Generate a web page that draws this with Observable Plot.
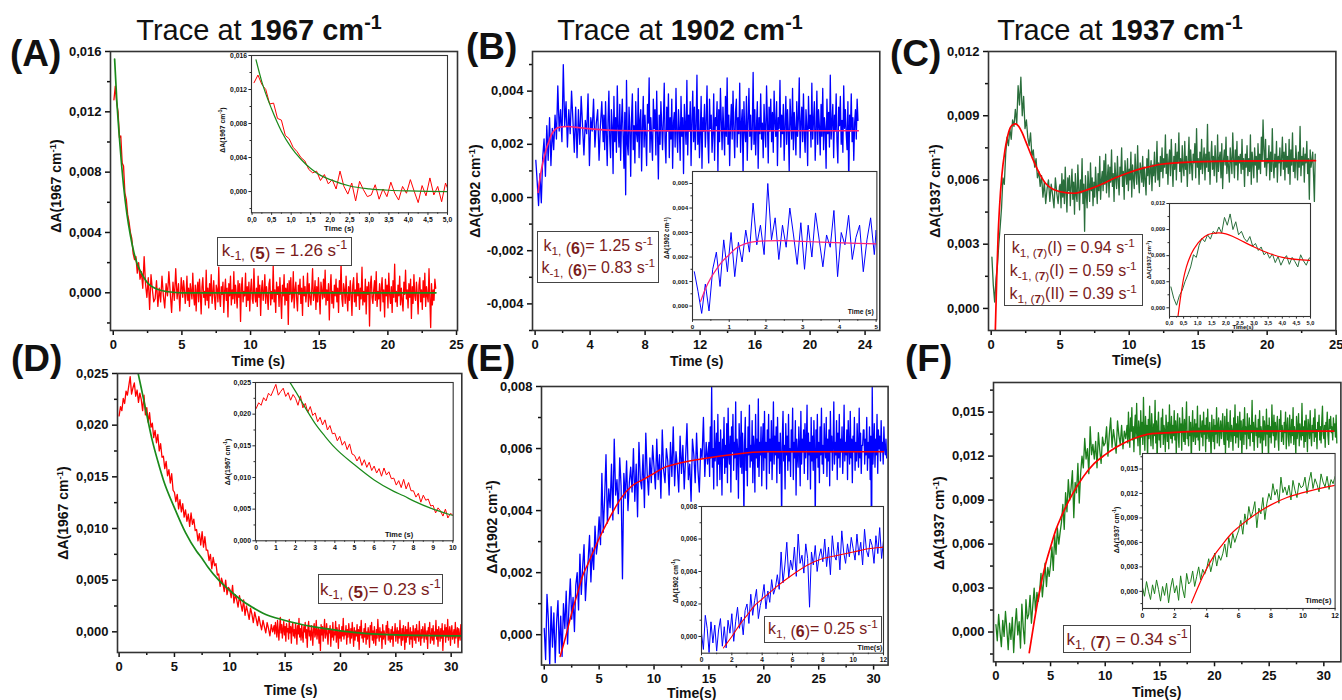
<!DOCTYPE html>
<html><head><meta charset="utf-8">
<script src="https://cdn.jsdelivr.net/npm/d3@7"></script>
<script src="https://cdn.jsdelivr.net/npm/@observablehq/plot@0.6"></script>
<style>
html,body{margin:0;padding:0;background:#fff;}
#fig{position:relative;width:1342px;height:700px;overflow:hidden;font-family:Arial,"Liberation Sans",sans-serif;color:#111;}
.t{position:absolute;white-space:nowrap;line-height:1;}
.box{position:absolute;box-sizing:border-box;border:1.5px solid #444;background:#fff;}
.an{position:absolute;white-space:nowrap;line-height:1;text-align:center;color:#7a1c1c;}
sub,sup{line-height:0;}
.an sub{font-size:0.74em;vertical-align:-0.3em;}
.an sup{font-size:0.74em;vertical-align:0.55em;}
.an .lo{vertical-align:-0.18em;}
.t sup{font-size:0.68em;vertical-align:0.55em;}
#fig svg g[aria-label$="tick label"]{font-weight:bold;}
</style>
</head><body><div id="fig"></div>
<script>
// ---------- data (ΔA values in units of 1e-4) ----------
const SCALE = 1e-4;
// Panel A (1967 cm-1): early part every 0.1 s from 0.05 s, later part every 0.061 s from 5 s
const A_t0 = 0.05, A_dt = 0.1, A_t1 = 5.0, A_dt2 = 0.061;
const traceA1 = [128,137,126,120,103,104,86,84,66,62,52,47,40,36,26,22,24,13,20,9,
14,3,24,6,-3,10,-11,12,2,-6,-4,8,-9,3,-6,11,-2,-10,6,-2,14,0,-13,7,-5,16,-4,6,-12,10];
const traceA2 = [4,-3,8,2,-7,-1,11,-5,3,-9,6,1,-4,13,-2,-8,5,-12,2,7,-6,9,-1,-14,4,10,-3,1,-8,15,
-5,3,-10,6,-2,12,-7,0,8,-4,-11,5,2,-6,17,-3,-9,4,-1,7,-13,1,9,-5,3,-16,6,-2,11,-8,
2,-4,14,-7,5,-1,-10,8,-3,6,-19,3,10,-6,1,-2,13,-9,4,-5,7,-12,2,9,-4,-7,16,-1,-6,3,
-9,11,-3,5,-15,2,8,-5,0,12,-7,4,-2,-11,6,9,-8,1,-4,18,-6,2,-13,7,-1,4,-9,10,-3,-17,
5,-2,12,-8,3,-5,6,-21,8,-1,10,-6,-3,14,-10,2,7,-4,-12,5,-1,9,-7,3,-15,11,-2,4,-6,1,
13,-9,6,-3,-8,2,16,-5,-1,8,-11,4,-6,10,-2,-14,7,1,-4,9,-3,15,-8,2,-5,6,-18,3,12,-7,
1,-10,5,-2,9,-6,3,-13,8,-1,20,-4,-9,6,2,-7,11,-3,-12,4,-5,8,-1,-15,5,10,-6,2,-9,13,
-2,6,-11,3,-4,17,-8,1,-6,9,-14,4,-1,7,-22,5,11,-3,-7,2,8,-5,14,-9,1,-4,6,-12,3,10,
-6,2,-16,9,-2,5,-10,13,-1,-7,4,-13,8,-3,19,-6,1,-9,5,-2,11,-8,3,-5,-12,7,-1,15,-4,2,
-10,6,-3,9,-17,4,-7,12,-2,-5,7,-1,-14,5,10,-6,2,-11,8,-3,13,-9,4,-2,-6,16,-4,-23,6,-8,
2,-5,9,3];
const fitA_t = [0.1,0.25,0.5,0.75,1,1.25,1.5,1.75,2,2.5,3,3.5,4,5,23.5];
const fitA_v = [155,129,97,71,52,38,27,19,14,6.5,3.2,1.5,0.7,0,0];

// Panel B (1902 cm-1)
const B_t0 = 0.05, B_dt = 0.1, B_t1 = 5.0, B_dt2 = 0.061;
const traceB1 = [14,6,-3,9,-2,15,22,8,27,14,30,12,26,18,31,22,42,25,33,21,
50,27,36,19,33,24,40,29,17,34,15,33,20,38,27,16,29,24,39,12,30,25,37,19,28,33,14,27,36,21];
const traceB2 = [31,18,36,24,12,29,40,22,15,33,27,9,38,21,30,17,42,26,19,35,
14,28,37,23,11,32,1,44,20,16,34,26,8,30,39,18,27,13,36,24,21,41,15,29,33,10,26,38,19,31,
23,12,35,28,45,17,30,22,14,37,26,33,16,40,24,7,31,20,36,27,18,29,43,21,13,34,25,39,15,30,
22,37,11,28,32,19,41,24,17,33,26,14,38,23,30,9,35,27,20,44,16,31,25,36,12,29,40,21,34,18,
27,46,20,33,15,24,38,11,30,25,35,19,28,42,22,13,37,26,31,17,24,39,14,30,27,36,10,33,21,41,
29,18,34,25,16,38,23,45,20,31,12,27,35,22,40,26,15,32,37,19,30,24,43,17,28,33,8,36,25,21,
38,14,29,41,23,31,18,26,47,20,33,16,27,36,11,30,24,39,22,28,15,35,26,19,42,29,13,34,25,37,
21,32,17,40,28,23,36,12,30,26,44,19,31,24,35,14,27,38,20,33,25,10,37,29,22,41,18,32,26,16,
36,23,30,45,15,28,34,21,39,24,17,33,27,12,38,26,31,19,43,22,29,36,14,25,40,20,33,27,16,35,
23,41,18,30,26,11,37,24,32,19,46,22,28,35,15,31,25,39,21,13,34,27,38,20,29,17,42,26,33,24,
18,36,4,31,25,39,21,30,14,28,33,22,37,29];
const fitB_t = [0.22,0.35,0.5,0.65,0.8,1.0,1.15,1.3,1.6,2,2.4,3,3.5,4.5,6,8,23.5];
const fitB_v = [1.9,7,11.5,15,18,21,23.2,24.6,26.1,26.6,26.7,26.4,26.1,25.6,25.2,25.1,25.1];

// Panel C (1937 cm-1)
const C_t0 = 0.05, C_dt = 0.1, C_t1 = 5.0, C_dt2 = 0.061;
const traceC1 = [24,11,3,14,20,30,38,47,61,58,72,80,76,84,79,88,85,93,86,104,
95,108,90,99,84,88,80,76,82,71,74,66,70,61,64,57,62,52,59,49,56,60,50,58,53,47,61,54,49,57];
const traceC2 = [58,47,63,52,60,49,66,54,45,61,55,62,48,57,65,51,59,44,63,53,
50,67,56,46,60,54,70,49,58,36,62,53,47,64,57,50,68,55,61,48,59,52,66,57,49,63,55,71,51,60,
64,55,69,58,72,54,61,67,52,66,59,74,57,63,50,68,61,56,71,60,53,66,62,75,57,64,51,69,63,58,
70,55,65,60,73,52,67,61,56,72,63,58,76,61,54,68,65,59,71,57,66,60,53,70,62,74,58,64,69,55,
67,62,73,59,65,78,60,68,57,71,64,75,61,70,66,81,63,72,58,69,74,62,79,67,57,71,65,77,60,73,
68,82,64,70,59,76,66,62,78,65,71,57,69,80,63,74,67,60,72,68,77,61,84,66,70,58,73,65,79,63,
69,75,60,72,66,86,64,73,58,70,78,65,71,62,76,68,59,81,64,70,73,61,77,56,69,74,67,80,63,71,
66,59,75,69,63,82,70,61,74,67,78,60,71,68,72,63,79,65,70,57,72,66,76,62,70,64,81,58,73,68,
61,75,67,71,59,77,65,72,63,80,69,88,74,66,79,62,70,68,76,60,73,64,84,67,61,72,66,78,59,71,
68,75,62,70,80,65,73,60,77,66,71,63,79,58,74,67,82,64,70,61,76,69,60,73,66,85,62,71,67,75,
59,72,68,78,63,70,51,74,66,69,73,62,50,72];
const fitC_t = [0.3,0.4,0.5,0.6,0.77,1,1.25,1.5,1.75,2,2.25,2.5,3,3.5,4,5,6,7,8,9,10,11,12,14,17,23.5];
const fitC_v = [-10,14,34,47,62,74,82,85.5,86.2,85,82,78,70,63,58,54.5,53.8,55.5,58,61,63.5,65.5,67,68.2,68.8,69];

// Panel D (1967 cm-1): every 0.125 s from 0 s, then every 0.0625 s from 14 s
const D_t0 = 0, D_dt = 0.125, D_t1 = 14, D_dt2 = 0.0625;
const traceD1 = [209,218,214,226,221,233,229,238,247,230,236,241,228,234,222,231,
225,214,229,210,217,203,212,198,202,188,195,183,191,175,182,169,170,158,165,151,157,144,153,137,
135,126,133,119,128,116,124,111,118,107,114,102,115,104,109,98,99,88,95,84,97,82,92,79,
79,69,75,61,72,64,66,55,56,44,52,47,39,50,36,43,
41,33,45,28,36,31,24,35,27,20,31,16,25,19,12,23,17,9,19,13,6,15,8,2,11,5,-1,9,3,-4,7,0];
const traceD2 = [6,-2,9,3,-5,11,1,-8,4,14,-1,7,-6,2,10,-3,5,-9,8,0,3,-7,12,-1,5,-11,4,9,-4,2,
-6,8,1,-12,6,-2,13,-5,3,-8,7,-3,-10,5,0,9,-6,2,-15,4,10,-4,1,-8,6,-1,-13,3,8,-5,
-2,11,-7,0,4,-11,2,-18,7,-3,5,-9,1,12,-6,-2,8,-4,-12,3,-1,6,-14,2,-5,9,-8,0,-3,10,
-10,4,-2,-16,7,-6,1,-9,5,-4,13,-7,0,-3,6,-12,2,-5,8,-1,-11,3,-6,9,-2,-14,4,-8,1,-4,
7,-9,2,-17,5,-3,11,-6,-1,-10,3,-5,8,-12,0,-7,4,-2,-15,6,-3,9,-8,1,-11,5,-4,-13,2,-6,
12,-2,-9,4,-5,0,-16,7,-7,1,-4,-12,6,-1,10,-8,3,-6,-10,2,-7,5,-14,0,-3,8,-9,-1,4,-11,
1,-6,11,-4,-13,3,-8,6,-2,-17,5,-10,2,-5,9,-3,-12,4,-7,0,-15,6,-2,-8,3,-11,7,-5,1,-9,
10,-4,-13,2,-6,5,-1,-10,8,-3,-7,1,-16,4,-2,9,-11,-5,3,-8,6,-12,0,-4,11,-7,2,-14,5,-1,
-9,3,-6,8,-18,1,-3,7,-10,4,-5,12,-8,-2,5,-13,0,6,-7,-3,2,-11,9,-6,-1,4,-15,3,-4,-8,
7,-3];
const fitD_t = [1.72,2,2.5,3,3.5,4,5,6,7,7.5,8,9,10,11,12,13,15,17.5,20,25,31];
const fitD_v = [250,236,210,185,165,147,120,96,78,71,63,50,40,31,24,18,11,5,1,-3,-4];

// Panel E (1902 cm-1)
const E_t0 = 0, E_dt = 0.125, E_t1 = 15, E_dt2 = 0.0625;
const traceE1 = [2,-8,13,5,-10,9,-4,7,-9,4,11,-6,6,-7,10,2,14,-3,9,18,5,12,1,16,
20,8,26,13,22,29,11,19,24,32,17,28,21,35,26,30,38,29,52,33,44,58,36,47,
41,55,37,63,45,50,39,57,48,18,52,44,56,40,49,54,46,60,43,55,38,62,50,47,58,41,65,52,45,57,49,61,
54,47,63,50,58,44,66,53,49,60,56,45,62,51,67,48,59,54,46,64,52,61,47,57,68,50,55,43,63,58,
49,65,53,46,60,57,70,51,62,55];
const traceE2 = [62,51,67,57,80,54,60,47,69,56,59,65,48,71,55,62,50,66,58,45,
63,57,70,52,61,54,68,49,73,58,55,64,46,67,59,71,53,62,57,75,50,63,59,44,68,61,54,72,52,65,
57,38,62,70,53,60,48,67,58,74,54,61,56,69,49,64,60,46,71,57,63,54,76,51,62,58,67,48,61,68,
53,72,57,62,47,66,59,71,52,63,56,69,50,60,75,55,64,58,67,49,70,57,62,52,65,58,36,64,72,56,
61,47,68,58,64,53,71,56,60,51,66,59,73,50,62,57,69,45,63,58,54,67,60,48,72,55,63,59,66,52,
68,57,61,74,50,65,58,62,47,70,56,64,53,69,59,37,66,57,71,54,62,49,67,58,73,55,61,52,68,60,
57,70,51,63,56,66,48,72,59,64,53,61,75,55,62,58,69,50,65,57,71,54,63,59,67,52,60,74,56,62,
58,66,50,69,61,55,72,57,63,49,64,59,70,53,62,56,68,60,54,73,57,65,52,61,61,66,66,55,63,58,
70,53,62,57,67,50,64,22,80,55,61,68,54,63,58,71,52,66,60,64,56,69,59,62,55,67,60,58,63,57];
const fitE_t = [1.45,2,2.5,3,3.5,4,5,6,7,8,9,10,11,12,13,15,17,20,30.9];
const fitE_v = [-7,0,7,13,19,23,31,38,44,48,50,52,54,55,55.8,57,58,59,59];

// Panel F (1937 cm-1)
const F_t0 = 0, F_dt = 0.125, F_t1 = 12, F_dt2 = 0.0625;
const traceF1 = [5,-6,12,0,-10,8,-3,14,2,-12,6,-5,10,-14,4,16,-2,7,-11,19,3,-8,22,9,
12,25,6,18,30,14,27,21,28,40,24,35,47,31,44,38,46,58,42,66,53,71,60,68,
75,87,70,95,82,104,90,98,110,78,102,95,115,88,108,120,112,132,118,125,108,140,121,128,
118,130,112,136,124,115,133,127,129,140,120,135,146,126,138,131,122,144,134,128,141,125,137,132];
const traceF2 = [141,129,150,134,126,146,137,153,131,140,123,139,148,132,156,136,127,144,138,121,
151,133,143,128,160,137,124,147,134,141,118,145,132,154,136,127,149,139,125,142,
134,158,129,144,115,140,150,131,137,126,146,135,152,128,141,137,123,148,139,130,
143,125,155,136,132,147,129,141,134,151,131,144,121,140,149,133,126,146,137,142,
124,153,139,130,145,128,141,157,132,136,127,147,134,143,116,138,151,130,135,145,
128,142,133,154,131,139,124,148,138,133,144,127,150,135,141,123,146,132,152,136,
130,143,134,119,148,137,130,145,125,141,135,153,129,140,146,127,138,144,132,140,
149,133,128,147,122,138,152,131,143,126,136,151,130,141,137,124,146,134,155,129,
142,133,147,126,139,150,131,144,120,138,145,128,153,135,140,125,149,137,132,146,
127,141,136,158,130,143,124,139,148,134,139,126,145,133,151,129,140,136,122,147,
131,144,138,127,152,135,141,117,146,133,140,129,155,137,134,148,126,143,131,139,
147,132,124,145,138,151,130,141,135,128,143,136,150,125,139,146,133,127,148,137,
129,145,134,153,128,140,136,121,147,132,138,149,127,142,135,131,156,134,140,126,
144,130,148,137,123,145,139,132,151,135,127,141,136,146,130,152,133,138,125,143,
137,148,131,140,129,144,154,135,132,141,126,143,138,150,134,128,145,139,147,136,
140,131,146,137,142,133,148,129];
const fitF_t = [3.05,3.5,4,4.5,5,5.5,6,7,8,9,10,11,12,13,14,16,20,30.9];
const fitF_v = [-14,7,28,45,58,70,79,94,106,115,121,126,130,133,135,136,137,137];

// ---------- tick values ----------
const xMaj25 = [0,5,10,15,20,25], xMin25 = [2.5,7.5,12.5,17.5,22.5];
const xMajB = [0,4,8,12,16,20,24], xMinB = [2,6,10,14,18,22];
const xMaj30 = [0,5,10,15,20,25,30], xMin30 = [2.5,7.5,12.5,17.5,22.5,27.5];
const yMajA = [0,0.004,0.008,0.012,0.016], yMinA = [-0.002,0.002,0.006,0.010,0.014];
const yMajB = [-0.004,-0.002,0,0.002,0.004], yMinB = [-0.005,-0.003,-0.001,0.001,0.003,0.005];
const yMajC = [0,0.003,0.006,0.009,0.012], yMinC = [0.0015,0.0045,0.0075,0.0105];
const yMajD = [0,0.005,0.010,0.015,0.020,0.025], yMinD = [0.0025,0.0075,0.0125,0.0175,0.0225];
const yMajE = [0,0.002,0.004,0.006,0.008], yMinE = [0.001,0.003,0.005,0.007];
const yMajF = [0,0.003,0.006,0.009,0.012,0.015], yMinF = [-0.0015,0.0015,0.0045,0.0075,0.0105,0.0135,0.0165];
const xMaj5h = [0,0.5,1,1.5,2,2.5,3,3.5,4,4.5,5], xMin5h = [0.25,0.75,1.25,1.75,2.25,2.75,3.25,3.75,4.25,4.75];
const xMaj5 = [0,1,2,3,4,5], xMin5 = [0.5,1.5,2.5,3.5,4.5];
const yMajBi = [0,0.001,0.002,0.003,0.004,0.005], yMinBi = [0.0005,0.0015,0.0025,0.0035,0.0045];
const xMaj10 = [0,1,2,3,4,5,6,7,8,9,10], xMin10 = [0.5,1.5,2.5,3.5,4.5,5.5,6.5,7.5,8.5,9.5];
const xMaj12 = [0,2,4,6,8,10,12], xMin12 = [1,3,5,7,9,11];

// ---------- helpers ----------
const fig = document.getElementById("fig");
const FONT = "Arial, 'Liberation Sans', sans-serif";
const rows = (vals, t0, dt) => vals.map((v, i) => ({t: t0 + i * dt, v: v * SCALE}));
const fitRows = (ts, vs) => ts.map((t, i) => ({t, v: vs[i] * SCALE}));
const fy3 = v => (v < 0 ? "-" : "") + Math.abs(v).toFixed(3).replace(".", ",");
const fx0 = v => String(v);
const fx1 = v => v.toFixed(1).replace(".", ",");
const none = () => "";

const RED = "#ff0000", BLUE = "#0000ff", GFIT = "#1b8a1b", PINK = "#ff2277", DGREEN = "#2a6e3c", FGREEN = "#1c7f1c";

const dA = rows(traceA1, A_t0, A_dt).concat(rows(traceA2, A_t1, A_dt2)), fA = fitRows(fitA_t, fitA_v);
const dB = rows(traceB1, B_t0, B_dt).concat(rows(traceB2, B_t1, B_dt2)), fB = fitRows(fitB_t, fitB_v);
const dC = rows(traceC1, C_t0, C_dt).concat(rows(traceC2, C_t1, C_dt2)), fC = fitRows(fitC_t, fitC_v);
const dD = rows(traceD1, D_t0, D_dt).concat(rows(traceD2, D_t1, D_dt2)), fD = fitRows(fitD_t, fitD_v);
const dE = rows(traceE1, E_t0, E_dt).concat(rows(traceE2, E_t1, E_dt2)), fE = fitRows(fitE_t, fitE_v);
const dF = rows(traceF1, F_t0, F_dt).concat(rows(traceF2, F_t1, F_dt2)), fF = fitRows(fitF_t, fitF_v);

const dataLine = (d, stroke, w) => Plot.line(d, {x: "t", y: "v", stroke, strokeWidth: w, clip: true});
const fitLine = (d, stroke, w) => Plot.line(d, {x: "t", y: "v", stroke, strokeWidth: w, curve: "monotone-x", clip: true});

function panel(c) {
  const [l, t, r, b] = c.box;
  const ml = 80, mr = 12, mt = 12, mb = 40;
  const W = r - l + ml + mr, H = b - t + mt + mb;
  const sw = c.sw, marks = [];
  if (c.inset) marks.push(Plot.frame({fill: "white"}));
  marks.push(...c.marks);
  marks.push(
    Plot.axisY({ticks: c.ym, tickSize: c.tm, tickFormat: none, label: null, strokeWidth: sw}),
    Plot.axisY({ticks: c.yt, tickSize: c.tM, tickPadding: c.pad, tickFormat: c.fy, label: null, strokeWidth: sw, fontSize: c.fs, fontWeight: "bold"}),
    Plot.axisX({ticks: c.xm, tickSize: c.tm, tickFormat: none, label: null, strokeWidth: sw}),
    Plot.axisX({ticks: c.xt, tickSize: c.tM, tickPadding: c.pad, tickFormat: c.fx, label: null, strokeWidth: sw, fontSize: c.fs, fontWeight: "bold"}),
    Plot.frame({stroke: "#333", strokeWidth: c.fw})
  );
  const svg = Plot.plot({
    width: W, height: H, marginLeft: ml, marginRight: mr, marginTop: mt, marginBottom: mb,
    x: {domain: c.x}, y: {domain: c.y}, marks,
    style: {fontFamily: FONT, color: "#111", background: "transparent", overflow: "visible", maxWidth: "none"}
  });
  svg.style.position = "absolute";
  svg.style.left = (l - ml) + "px";
  svg.style.top = (t - mt) + "px";
  fig.appendChild(svg);
}
const MAIN = {fs: 13, tM: 5, tm: 3, pad: 4, sw: 1.5, fw: 1.6, fy: fy3, fx: fx0};
const INS = {fs: 6.8, tM: 2.6, tm: 1.5, pad: 1.8, sw: 0.9, fw: 1.1, fy: fy3, inset: true};

function ctext(html, cx, cy, size, weight, rot) {
  const d = document.createElement("div");
  d.className = "t";
  d.innerHTML = html;
  d.style.left = cx + "px"; d.style.top = cy + "px";
  d.style.fontSize = size + "px"; d.style.fontWeight = weight;
  d.style.transform = "translate(-50%,-50%)" + (rot ? " rotate(-90deg)" : "");
  fig.appendChild(d);
}
function ltext(html, x, base, size, weight) {
  const d = document.createElement("div");
  d.className = "t";
  d.innerHTML = html;
  d.style.left = x + "px"; d.style.top = (base - 0.8465 * size) + "px";
  d.style.fontSize = size + "px"; d.style.fontWeight = weight;
  fig.appendChild(d);
}
function ann(box, size, lines) {
  const [l, t, r, b] = box;
  const bx = document.createElement("div");
  bx.className = "box";
  bx.style.cssText = `left:${l}px;top:${t}px;width:${r - l}px;height:${b - t}px;`;
  fig.appendChild(bx);
  for (const [html, base] of lines) {
    const d = document.createElement("div");
    d.className = "an";
    d.innerHTML = html;
    d.style.cssText = `left:${l}px;width:${r - l}px;top:${base - 0.8465 * size}px;font-size:${size}px;`;
    fig.appendChild(d);
  }
}
const YT = n => `ΔA(${n} cm<sup>-1</sup>)`;

// ---------- Panel A ----------
panel({...MAIN, box: [110, 51, 457, 330], x: [-0.2, 25.07], y: [-0.0025, 0.016],
  xt: xMaj25, xm: xMin25, yt: yMajA, ym: yMinA,
  marks: [dataLine(dA, RED, 1.3), fitLine(fA, GFIT, 1.7)]});
panel({...INS, box: [250.7, 55, 446.7, 212.3], x: [-0.015, 5.0], y: [-0.0025, 0.016],
  xt: xMaj5h, xm: xMin5h, yt: yMajA, ym: yMinA, fx: fx1,
  marks: [dataLine(dA, RED, 1), fitLine(fA, GFIT, 1.2)]});
// ---------- Panel B ----------
panel({...MAIN, box: [531.7, 51, 879, 330], x: [-0.19, 25.07], y: [-0.005, 0.00549],
  xt: xMajB, xm: xMinB, yt: yMajB, ym: yMinB,
  marks: [dataLine(dB, BLUE, 1.3), fitLine(fB, PINK, 1.7)]});
panel({...INS, box: [692.3, 170.7, 876.7, 319], x: [0, 5.02], y: [-0.00056, 0.00549], fs: 6.2,
  xt: xMaj5, xm: xMin5, yt: yMajBi, ym: yMinBi, fx: fx0,
  marks: [dataLine(dB, BLUE, 1), fitLine(fB, PINK, 1.2)]});
// ---------- Panel C ----------
panel({...MAIN, box: [988.3, 51, 1335.7, 330], x: [-0.196, 24.98], y: [-0.00103, 0.012],
  xt: xMaj25, xm: xMin25, yt: yMajC, ym: yMinC,
  marks: [dataLine(dC, DGREEN, 1.3), fitLine(fC, RED, 1.7)]});
panel({...INS, box: [1169.3, 203, 1310.3, 316], x: [0, 5], y: [-0.001, 0.012], fs: 5.6,
  xt: xMaj5h, xm: xMin5h, yt: yMajC, ym: yMinC, fx: fx1,
  marks: [dataLine(dC, DGREEN, 1), fitLine(fC, RED, 1.2)]});
// ---------- Panel D ----------
panel({...MAIN, box: [116.7, 372.7, 461, 651.7], x: [-0.145, 30.96], y: [-0.002, 0.025],
  xt: xMaj30, xm: xMin30, yt: yMajD, ym: yMinD,
  marks: [dataLine(dD, RED, 1.3), fitLine(fD, GFIT, 1.7)]});
panel({...INS, box: [255, 381.7, 452.7, 540], x: [-0.036, 10.02], y: [0, 0.025], fs: 7,
  xt: xMaj10, xm: xMin10, yt: yMajD, ym: yMinD, fx: fx0,
  marks: [dataLine(dD, RED, 1), fitLine(fD, GFIT, 1.2)]});
// ---------- Panel E ----------
panel({...MAIN, box: [540.7, 385.7, 887.3, 664.3], x: [-0.25, 31.32], y: [-0.00098, 0.008],
  xt: xMaj30, xm: xMin30, yt: yMajE, ym: yMinE,
  marks: [dataLine(dE, BLUE, 1.3), fitLine(fE, RED, 1.5)]});
panel({...INS, box: [701.3, 506, 883.3, 652.7], x: [0, 12], y: [-0.00103, 0.008], fs: 6.6,
  xt: xMaj12, xm: xMin12, yt: yMajE, ym: yMinE, fx: fx0,
  marks: [dataLine(dE, BLUE, 1), fitLine(fE, RED, 1.1)]});
// ---------- Panel F ----------
panel({...MAIN, box: [993.3, 381.7, 1340.7, 661], x: [-0.22, 31.56], y: [-0.00203, 0.01702],
  xt: xMaj30, xm: xMin30, yt: yMajF, ym: yMinF,
  marks: [dataLine(dF, FGREEN, 1.3), fitLine(fF, RED, 1.7)]});
panel({...INS, box: [1141.7, 453.3, 1334.3, 608.3], x: [0, 12], y: [-0.0021, 0.0169], fs: 7,
  xt: xMaj12, xm: xMin12, yt: yMajF, ym: yMinF, fx: fx0,
  marks: [dataLine(dF, FGREEN, 1), fitLine(fF, RED, 1.2)]});

// ---------- titles and labels ----------
ctext('Trace at <b>1967 cm<sup>-1</sup></b>', 259, 30, 29, "normal");
ctext('Trace at <b>1902 cm<sup>-1</sup></b>', 680, 30, 29, "normal");
ctext('Trace at <b>1937 cm<sup>-1</sup></b>', 1120, 30, 29, "normal");
ltext('(A)', 10, 66.7, 37, "bold");
ltext('(B)', 466, 59, 37, "bold");
ltext('(C)', 890, 66.7, 37, "bold");
ltext('(D)', 11, 371.7, 37, "bold");
ltext('(E)', 466, 371.7, 37, "bold");
ltext('(F)', 905, 371.7, 37, "bold");
// main axis titles
ctext(YT(1967), 55.8, 185.5, 14, "bold", true);
ctext(YT(1902), 475, 190.5, 14, "bold", true);
ctext(YT(1937), 935, 190.5, 14, "bold", true);
ctext(YT(1967), 63.3, 512.5, 14, "bold", true);
ctext(YT(1902), 491.7, 526.7, 14, "bold", true);
ctext(YT(1937), 939, 522.5, 14, "bold", true);
ctext('Time (s)', 258.3, 361, 14, "bold");
ctext('Time (s)', 696.7, 361, 14, "bold");
ctext('Time(s)', 1136.7, 360, 14, "bold");
ctext('Time (s)', 290.8, 690, 14, "bold");
ctext('Time(s)', 691.7, 693, 14, "bold");
ctext('Time(s)', 1156.7, 692, 14, "bold");
// inset axis titles
ctext(YT(1967), 222.5, 130, 6.8, "bold", true);
ctext(YT(1902), 666.7, 237.5, 6.3, "bold", true);
ctext(YT(1937), 1150, 260, 5.8, "bold", true);
ctext(YT(1967), 227.3, 461.7, 7, "bold", true);
ctext(YT(1902), 675.8, 580.8, 6.6, "bold", true);
ctext(YT(1937), 1116, 530, 7, "bold", true);
ctext('Time (s)', 339, 229.3, 7.8, "bold");
ctext('Time (s)', 860.7, 312, 6.8, "bold");
ctext('Time(s)', 1243, 326.7, 6, "bold");
ctext('Time (s)', 399, 535, 7.4, "bold");
ctext('Time(s)', 870, 647.3, 7, "bold");
ctext('Time(s)', 1318.3, 600.7, 7.4, "bold");

// ---------- rate annotations ----------
ann([217, 237, 352, 265.7], 17, [['k<sub>-1,</sub> <span class="lo">(<b>5</b>)</span> = 1.26 s<sup>-1</sup>', 256]]);
ann([537.3, 231, 659.3, 283.3], 16, [
  ['k<sub>1,</sub> <span class="lo">(<b>6</b>)</span>= 1.25 s<sup>-1</sup>', 251.7],
  ['k<sub>-1,</sub> <span class="lo">(<b>6</b>)</span>= 0.83 s<sup>-1</sup>', 273.3]]);
ann([1003.7, 234, 1142.7, 306], 16, [
  ['k<sub>1, (<b>7</b>)</sub>(I) = 0.94 s<sup>-1</sup>', 253.3],
  ['k<sub>-1, (<b>7</b>)</sub>(I) = 0.59 s<sup>-1</sup>', 276.7],
  ['k<sub>1, (<b>7</b>)</sub>(II) = 0.39 s<sup>-1</sup>', 299.3]]);
ann([317.7, 574.3, 443, 604], 17, [['k<sub>-1,</sub> <span class="lo">(<b>5</b>)</span>= 0.23 s<sup>-1</sup>', 595]]);
ann([764.3, 615.7, 881.7, 643.3], 16, [['k<sub>1,</sub> <span class="lo">(<b>6</b>)</span>= 0.25 s<sup>-1</sup>', 635]]);
ann([1063.3, 625, 1191, 653.3], 17, [['k<sub>1,</sub> <span class="lo">(<b>7</b>)</span> = 0.34 s<sup>-1</sup>', 645]]);
</script>
</body></html>
